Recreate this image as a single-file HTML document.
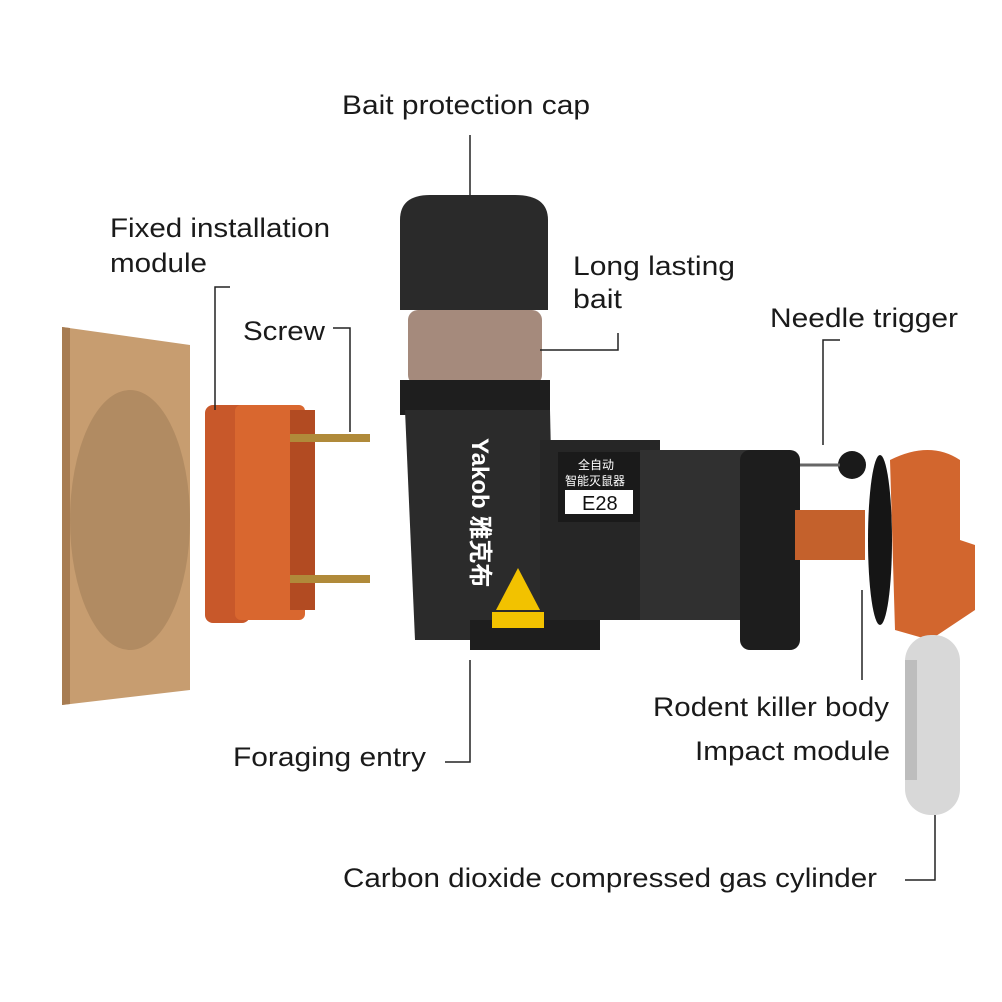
<!DOCTYPE html>
<html><head><meta charset="utf-8"><style>
html,body{margin:0;padding:0;background:#fff;width:1002px;height:1002px;overflow:hidden}
svg{display:block}
text{font-family:"Liberation Sans","Noto Sans CJK SC",sans-serif;font-size:27px;fill:#1a1a1a}
</style></head><body>
<svg width="1002" height="1002" viewBox="0 0 1002 1002">
<polygon points="62,327 190,345 190,690 62,705" fill="#c79d70"/>
<polygon points="62,327 70,328 70,704 62,705" fill="#a77c52"/>
<ellipse cx="130" cy="520" rx="60" ry="130" fill="#8a6a48" opacity="0.35"/>
<rect x="205" y="405" width="45" height="218" rx="8" fill="#c8582a"/>
<rect x="235" y="405" width="70" height="215" rx="6" fill="#d9672f"/>
<rect x="290" y="410" width="25" height="200" fill="#b24b22"/>
<rect x="290" y="434" width="80" height="8" fill="#b08a3a"/>
<rect x="290" y="575" width="80" height="8" fill="#b08a3a"/>
<path d="M400,300 L400,220 Q400,195 430,195 L515,195 Q548,195 548,220 L548,310 L400,310Z" fill="#2a2a2a"/>
<rect x="408" y="310" width="134" height="75" rx="10" fill="#a58a7c"/>
<rect x="400" y="380" width="150" height="35" fill="#1e1e1e"/>
<path d="M405,410 L550,410 L555,640 L415,640Z" fill="#2b2b2b"/>
<rect x="540" y="440" width="120" height="180" fill="#262626"/>
<rect x="640" y="450" width="120" height="170" fill="#303030"/>
<rect x="740" y="450" width="60" height="200" rx="10" fill="#1d1d1d"/>
<rect x="470" y="620" width="130" height="30" fill="#1e1e1e"/>
<rect x="558" y="452" width="82" height="70" fill="#1a1a1a"/>
<text x="578" y="469" style="font-size:12px;fill:#fff">全自动</text>
<text x="565" y="485" style="font-size:12px;fill:#fff">智能灭鼠器</text>
<rect x="565" y="490" width="68" height="24" fill="#fff"/>
<text x="582" y="510" style="font-size:20px;fill:#111">E28</text>
<text x="0" y="0" transform="translate(472,438) rotate(90)" style="font-size:24px;fill:#fff;font-weight:bold">Yakob 雅克布</text>
<polygon points="518,568 540,610 496,610" fill="#f2c200"/>
<rect x="492" y="612" width="52" height="16" fill="#f2c200"/>
<rect x="795" y="510" width="70" height="50" fill="#c4612c"/>
<ellipse cx="880" cy="540" rx="12" ry="85" fill="#151515"/>
<circle cx="852" cy="465" r="14" fill="#1a1a1a"/>
<line x1="800" y1="465" x2="840" y2="465" stroke="#666" stroke-width="3"/>
<path d="M890,460 Q930,440 960,460 L960,540 L975,545 L975,610 L930,640 L895,630Z" fill="#d2662e"/>
<rect x="905" y="635" width="55" height="180" rx="26" fill="#d8d8d8"/>
<rect x="905" y="660" width="12" height="120" fill="#bdbdbd"/>
<g stroke="#222" stroke-width="1.5" fill="none">
<polyline points="470,135 470,195"/>
<polyline points="230,287 215,287 215,410"/>
<polyline points="333,328 350,328 350,432"/>
<polyline points="540,350 618,350 618,333"/>
<polyline points="840,340 823,340 823,445"/>
<polyline points="862,590 862,680"/>
<polyline points="470,660 470,762 445,762"/>
<polyline points="935,815 935,880 905,880"/>
</g>
<g>
<text x="342" y="114" textLength="248" lengthAdjust="spacingAndGlyphs">Bait protection cap</text>
<text x="110" y="237" textLength="220" lengthAdjust="spacingAndGlyphs">Fixed installation</text>
<text x="110" y="272" textLength="97" lengthAdjust="spacingAndGlyphs">module</text>
<text x="243" y="340" textLength="82" lengthAdjust="spacingAndGlyphs">Screw</text>
<text x="573" y="275" textLength="162" lengthAdjust="spacingAndGlyphs">Long lasting</text>
<text x="573" y="308" textLength="49" lengthAdjust="spacingAndGlyphs">bait</text>
<text x="770" y="327" textLength="188" lengthAdjust="spacingAndGlyphs">Needle trigger</text>
<text x="653" y="716" textLength="236" lengthAdjust="spacingAndGlyphs">Rodent killer body</text>
<text x="695" y="760" textLength="195" lengthAdjust="spacingAndGlyphs">Impact module</text>
<text x="233" y="766" textLength="193" lengthAdjust="spacingAndGlyphs">Foraging entry</text>
<text x="343" y="887" textLength="534" lengthAdjust="spacingAndGlyphs">Carbon dioxide compressed gas cylinder</text>
</g>
</svg>
</body></html>
